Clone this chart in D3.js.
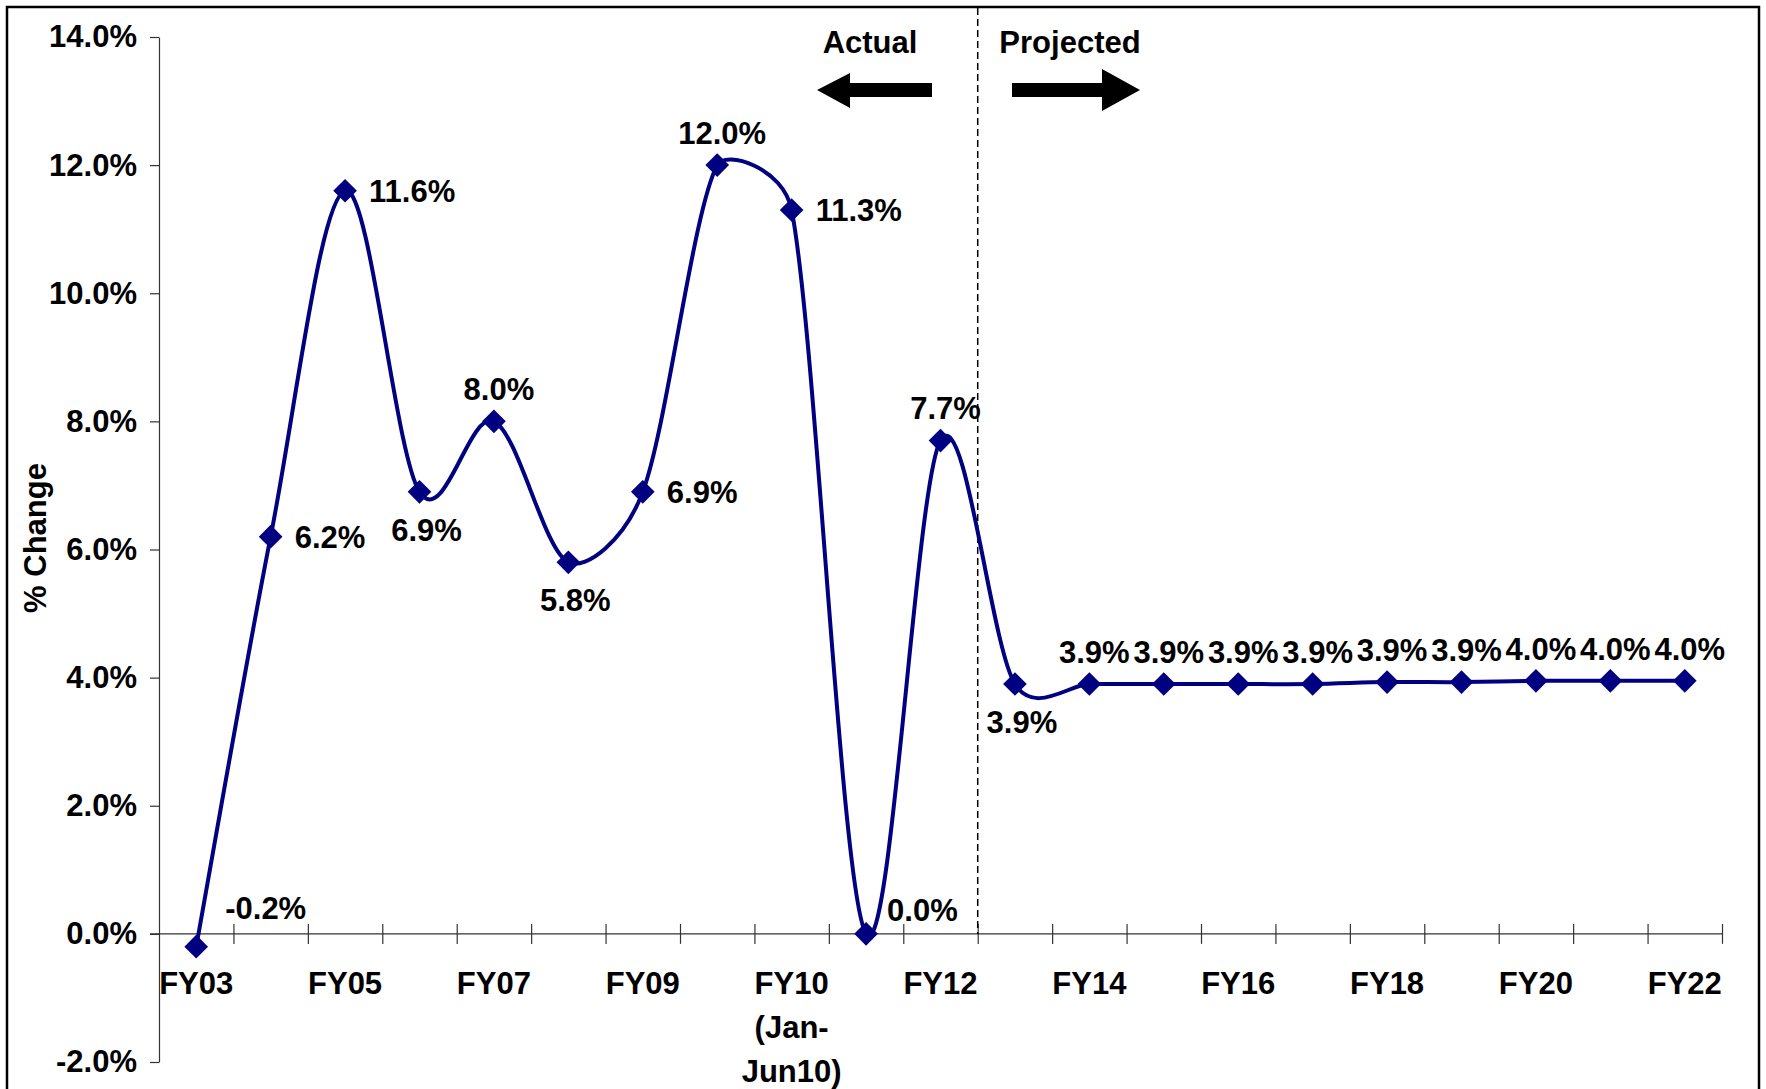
<!DOCTYPE html>
<html>
<head>
<meta charset="utf-8">
<title>% Change FY03-FY22</title>
<script src="https://d3js.org/d3.v7.min.js"></script>
<style type="text/css">
    body { margin: 0; background: #fff; }
    text { font-family: "Liberation Sans", Arial, sans-serif; font-weight: bold; fill: #000; }
    .axis path, .axis line { stroke: #333; stroke-width: 1.2px; }
</style>
</head>
<body>
<div id="chart"></div>
<script type="text/javascript">

    // categories (one per point), tick labels shown under every other one
    var categories = ["FY03", "FY04", "FY05", "FY06", "FY07", "FY08", "FY09", "FY10",
                      "FY10 (Jan-Jun10)", "FY11", "FY12", "FY13", "FY14", "FY15", "FY16",
                      "FY17", "FY18", "FY19", "FY20", "FY21", "FY22"];

    var tickLabels = ["FY03", "", "FY05", "", "FY07", "", "FY09", "", "FY10\n(Jan-\nJun10)", "",
                      "FY12", "", "FY14", "", "FY16", "", "FY18", "", "FY20", "", "FY22"];

    var values = [-0.2, 6.2, 11.6, 6.9, 8.0, 5.8, 6.9, 12.0, 11.3, 0.0, 7.7,
                  3.9, 3.9, 3.9, 3.9, 3.9, 3.93, 3.93, 3.95, 3.95, 3.95];

    // where each data label sits: r = right, a = above, b = below, ur / rr = up-right
    var labelPos = ["ur", "r", "r", "b", "a", "b", "r", "a", "r", "rr", "a",
                    "b", "a", "a", "a", "a", "a", "a", "a", "a", "a"];

    var yTicks = [-2, 0, 2, 4, 6, 8, 10, 12, 14];

    var firstProjected = "FY13";

    var width = 1766,
        height = 1089,
        fontSize = "31px";

    var svg = d3.select("#chart")
        .append("svg")
        .attr("width", width)
        .attr("height", height);

    svg.append("rect")
        .attr("width", width).attr("height", height)
        .style("fill", "#fff");

    // outer frame
    svg.append("rect")
        .attr("x", 7).attr("y", 7)
        .attr("width", 1752).attr("height", 1110)
        .style("fill", "none")
        .style("stroke", "#000")
        .style("stroke-width", 2.5);

    var x = d3.scaleBand()
        .domain(categories)
        .range([159, 1722])
        .paddingInner(0).paddingOuter(0);

    var y = d3.scaleLinear()
        .domain([-2, 14])
        .range([1062, 37]);

    var bw = x.bandwidth();
    function cx(d) { return x(d) + bw / 2; }

    // y axis
    svg.append("g")
        .attr("class", "axis")
        .attr("transform", "translate(159,0)")
        .call(d3.axisLeft(y)
            .tickValues(yTicks)
            .tickSize(9)
            .tickSizeOuter(0)
            .tickPadding(13)
            .tickFormat(function(d) { return d.toFixed(1) + "%"; }))
        .call(function(g) {
            g.selectAll("text")
                .style("font-size", fontSize)
                .style("font-family", "'Liberation Sans', Arial, sans-serif")
                .style("font-weight", "bold")
                .attr("fill", "#000");
        });

    // x axis line at 0 with crossing ticks at category boundaries
    var bounds = d3.scaleLinear().domain([0, categories.length]).range(x.range());
    svg.append("line")
        .attr("x1", 150).attr("x2", x.range()[1])
        .attr("y1", y(0)).attr("y2", y(0))
        .style("stroke", "#333").style("stroke-width", 1.2);

    svg.append("g")
        .attr("class", "axis")
        .attr("transform", "translate(0," + (y(0) - 10) + ")")
        .call(d3.axisBottom(bounds)
            .tickValues(d3.range(1, categories.length + 1))
            .tickSize(20)
            .tickFormat(""))
        .call(function(g) { g.select(".domain").remove(); });

    // category labels
    svg.append("g").selectAll("text")
        .data(categories.map(function(c, i) { return { cat: c, label: tickLabels[i] }; })
                        .filter(function(d) { return d.label !== ""; }))
        .enter()
        .append("text")
        .attr("text-anchor", "middle")
        .style("font-size", fontSize)
        .each(function(d) {
            var t = d3.select(this);
            d.label.split("\n").forEach(function(line, k) {
                t.append("tspan")
                    .attr("x", cx(d.cat))
                    .attr("y", 983 + k * 44)
                    .attr("dy", "0.35em")
                    .text(line);
            });
        });

    // y axis title
    svg.append("text")
        .attr("transform", "translate(35," + 538 + ") rotate(-90)")
        .attr("text-anchor", "middle")
        .attr("dy", "0.35em")
        .style("font-size", fontSize)
        .text("% Change");

    // actual / projected divider
    var divX = x(firstProjected);
    svg.append("line")
        .attr("x1", divX).attr("x2", divX)
        .attr("y1", 8).attr("y2", y(0))
        .style("stroke", "#000")
        .style("stroke-width", 1.5)
        .style("stroke-dasharray", "7,4");

    svg.append("text")
        .attr("x", 870).attr("y", 53)
        .attr("text-anchor", "middle")
        .style("font-size", fontSize)
        .text("Actual");

    svg.append("text")
        .attr("x", 1070).attr("y", 53)
        .attr("text-anchor", "middle")
        .style("font-size", fontSize)
        .text("Projected");

    // arrows
    svg.append("path")
        .attr("d", "M817,90 L850,73 L850,83 L932,83 L932,97 L850,97 L850,108 Z")
        .style("fill", "#000");
    svg.append("path")
        .attr("d", "M1140,90 L1102,69 L1102,83 L1012,83 L1012,97 L1102,97 L1102,111 Z")
        .style("fill", "#000");

    // Excel-style smoothed line: tension 1/6, shrunk when neighbours are far apart
    function smoothPath(pts) {
        var p = d3.path();
        p.moveTo(pts[0][0], pts[0][1]);
        function dist(a, b) { return Math.hypot(b[0] - a[0], b[1] - a[1]); }
        for (var i = 0; i < pts.length - 1; i++) {
            var p0 = pts[Math.max(i - 1, 0)], p1 = pts[i],
                p2 = pts[i + 1], p3 = pts[Math.min(i + 2, pts.length - 1)];
            var d12 = dist(p1, p2), d02 = dist(p0, p2), d13 = dist(p1, p3);
            var f = 1 / 6;
            if (d02 / 6 >= d12 / 2 || d13 / 6 >= d12 / 2) {
                f = d12 / (2 * Math.max(d02, d13));
            }
            p.bezierCurveTo(p1[0] + (p2[0] - p0[0]) * f, p1[1] + (p2[1] - p0[1]) * f,
                            p2[0] - (p3[0] - p1[0]) * f, p2[1] - (p3[1] - p1[1]) * f,
                            p2[0], p2[1]);
        }
        return p.toString();
    }

    var pts = values.map(function(d, i) { return [cx(categories[i]), y(d)]; });

    svg.append("path")
        .attr("d", smoothPath(pts))
        .style("fill", "none")
        .style("stroke", "#000080")
        .style("stroke-width", 4);

    svg.append("g").selectAll("path")
        .data(values)
        .enter()
        .append("path")
        .attr("d", d3.symbol(d3.symbolSquare, 280))
        .attr("transform", function(d, i) {
            return "translate(" + cx(categories[i]) + "," + y(d) + ") rotate(45)";
        })
        .style("fill", "#000080");

    // data labels
    var offs = {
        r:  { dx: 24, dy: 0,   anchor: "start" },
        a:  { dx: 5,  dy: -32, anchor: "middle" },
        b:  { dx: 7,  dy: 38,  anchor: "middle" },
        ur: { dx: 29, dy: -39, anchor: "start" },
        rr: { dx: 21, dy: -24, anchor: "start" }
    };

    svg.append("g").selectAll("text")
        .data(values)
        .enter()
        .append("text")
        .attr("x", function(d, i) { return cx(categories[i]) + offs[labelPos[i]].dx; })
        .attr("y", function(d, i) { return y(d) + offs[labelPos[i]].dy; })
        .attr("dy", "0.35em")
        .attr("text-anchor", function(d, i) { return offs[labelPos[i]].anchor; })
        .style("font-size", fontSize)
        .text(function(d) { return d.toFixed(1) + "%"; });

</script>
</body>
</html>
